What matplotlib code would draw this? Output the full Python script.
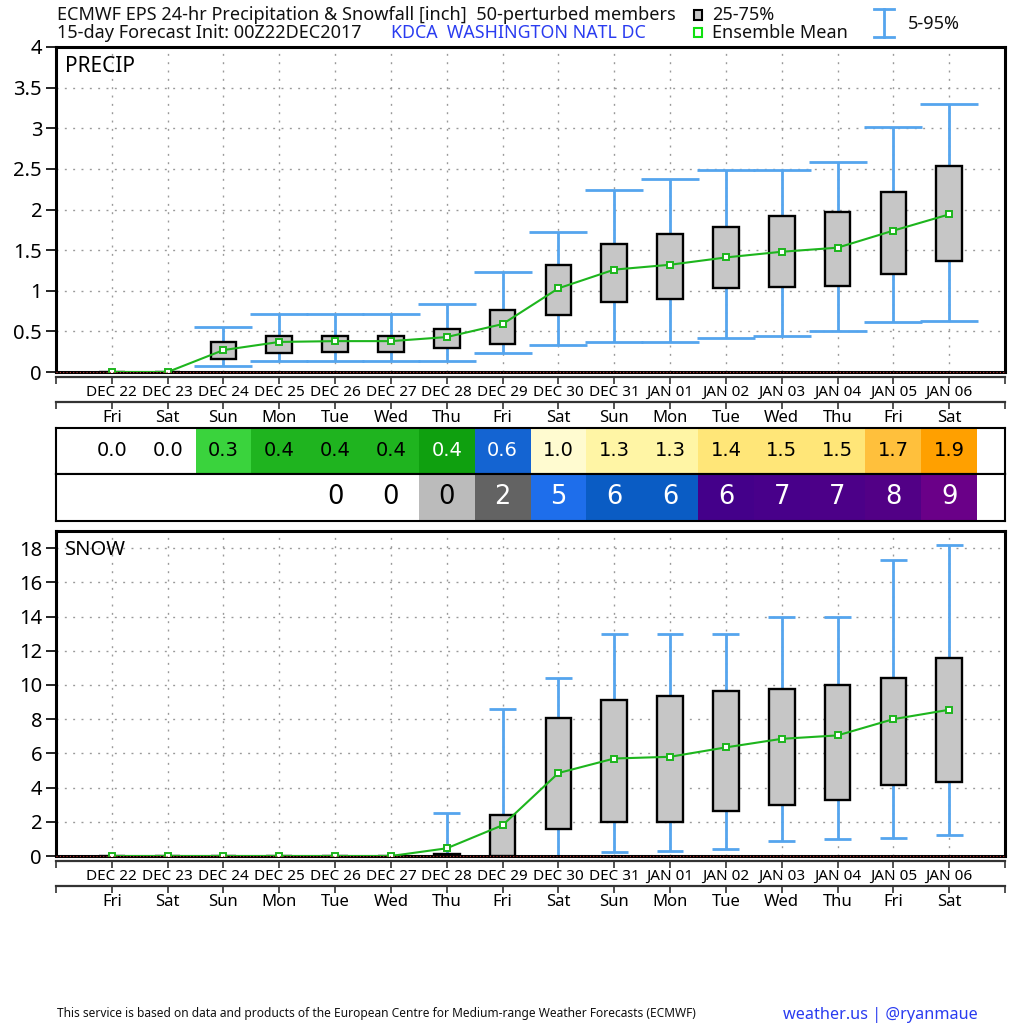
import numpy as np
import matplotlib
matplotlib.use("Agg")
import matplotlib.pyplot as plt
from matplotlib.lines import Line2D
from matplotlib.patches import Rectangle

plt.rcParams['font.family'] = ['Noto Sans', 'DejaVu Sans']

dates = ["DEC 22","DEC 23","DEC 24","DEC 25","DEC 26","DEC 27","DEC 28","DEC 29","DEC 30","DEC 31",
         "JAN 01","JAN 02","JAN 03","JAN 04","JAN 05","JAN 06"]
weekdays = ["Fri","Sat","Sun","Mon","Tue","Wed","Thu","Fri","Sat","Sun","Mon","Tue","Wed","Thu","Fri","Sat"]

p_p05 = [0,0,0.08,0.13,0.13,0.13,0.14,0.23,0.33,0.37,0.37,0.42,0.44,0.50,0.62,0.63]
p_p95 = [0,0,0.55,0.72,0.72,0.72,0.84,1.23,1.72,2.24,2.38,2.49,2.49,2.58,3.01,3.30]
p_q1 = [0,0,0.16,0.23,0.25,0.25,0.29,0.35,0.70,0.86,0.90,1.04,1.05,1.06,1.21,1.37]
p_q3 = [0,0,0.37,0.44,0.44,0.44,0.53,0.76,1.32,1.58,1.70,1.78,1.92,1.97,2.21,2.53]
p_mean = [0,0,0.27,0.37,0.38,0.38,0.43,0.59,1.03,1.26,1.32,1.41,1.48,1.53,1.74,1.94]

s_p05 = [0,0,0,0,0,0,0,0,0,0.25,0.30,0.40,0.85,1.00,1.05,1.25]
s_p95 = [0,0,0,0,0,0,2.5,8.6,10.4,13.0,13.0,13.0,14.0,14.0,17.3,18.2]
s_q1 = [0,0,0,0,0,0,0,0,1.55,2.0,2.0,2.65,3.0,3.25,4.15,4.3]
s_q3 = [0,0,0,0,0,0,0.1,2.4,8.05,9.1,9.35,9.65,9.75,10.0,10.4,11.6]
s_mean = [0,0,0,0,0,0,0.45,1.8,4.85,5.7,5.8,6.35,6.85,7.05,8.0,8.55]

p_labels = ["0.0","0.0","0.3","0.4","0.4","0.4","0.4","0.6","1.0","1.3","1.3","1.4","1.5","1.5","1.7","1.9"]
p_colors = ["#ffffff","#ffffff","#3ad33d","#1fb41f","#1fb41f","#1fb41f","#0fa00f","#1464d2","#fffbd0","#fff5a5",
            "#fff5a5","#ffe678","#ffe678","#ffe678","#ffc03c","#ffa000"]
p_text = ["black"]*6 + ["white","white"] + ["black"]*8
s_labels = ["","","","","0","0","0","2","5","6","6","6","7","7","8","9"]
s_colors = ["#ffffff"]*6 + ["#bbbbbb","#636363","#1e6eeb","#0a5cc4","#0a5cc4","#44008a","#48008a","#4c0088","#520086","#6a0088"]
s_text = ["black"]*7 + ["white"]*9

BLUE = "#55a5ee"
GREEN = "#1db51d"
W = H = 1024
fig = plt.figure(figsize=(10.24, 10.24), dpi=100, facecolor="white")

def axpx(l, t, r, b, **kw):
    return fig.add_axes([l/W, 1-b/H, (r-l)/W, (b-t)/H], **kw)

x = np.arange(len(dates))
xlim = (-1, 16)
ticks = np.arange(-1, 17)

def panel(top, bottom, ymax, yticks, yticklabels, p05, p95, q1, q3, mean, name, name_fs, cap):
    ax = axpx(56, top, 1005, bottom)
    ax.set_xlim(*xlim); ax.set_ylim(0, ymax)
    ax.set_yticks(yticks); ax.set_yticklabels(yticklabels, fontsize=14.5)
    ax.set_xticks(ticks); ax.set_xticklabels([])
    ax.tick_params(axis='x', length=0)
    ax.tick_params(axis='y', length=7, width=1.2, pad=3)
    ax.grid(True, color="#999999", lw=1, ls=(0, (1.4, 4.6)))
    ax.set_axisbelow(True)
    for s in ax.spines.values():
        s.set_linewidth(2.2)
    p05, p95, q1, q3 = map(np.array, (p05, p95, q1, q3))
    vis = p95 > 0
    ax.vlines(x[vis], p05[vis], p95[vis], color=BLUE, lw=2, zorder=2)
    ax.hlines(p95[vis], x[vis]-cap, x[vis]+cap, color=BLUE, lw=2, zorder=2)
    ax.hlines(p05[vis], x[vis]-cap, x[vis]+cap, color=BLUE, lw=2, zorder=2)
    ax.bar(x, q3-q1, bottom=q1, width=0.46, facecolor="#c6c6c6", edgecolor="black", lw=1.7, zorder=3)
    ax.plot(x, mean, color=GREEN, lw=1.5, marker='s', ms=5, mfc="white", mec=GREEN, mew=1.4, zorder=4)
    ax.axhline(0, color="#c03030", lw=0.8, ls=(0, (1, 2)), zorder=6, clip_on=False)
    ax.text(9/949, 1-(19/(bottom-top)), name, transform=ax.transAxes, fontsize=name_fs, va='center', ha='left')
    return ax

panel(47, 372, 4, np.arange(0, 4.5, 0.5), ["0","0.5","1","1.5","2","2.5","3","3.5","4"],
      p_p05, p_p95, p_q1, p_q3, p_mean, "PRECIP", 15, 0.52)
panel(531, 856, 19, np.arange(0, 20, 2), [str(v) for v in range(0, 20, 2)],
      s_p05, s_p95, s_q1, s_q3, s_mean, "SNOW", 14.5, 0.24)

def strip(y, labels, pad, fs):
    ax = axpx(56, y, 1005, y+0.5)
    ax.set_xlim(*xlim); ax.set_yticks([])
    for k, s in ax.spines.items():
        s.set_visible(k == 'top')
        s.set_linewidth(1.6); s.set_color("#333333")
    ax.set_xticks(ticks)
    ax.set_xticklabels([""] + labels + [""], fontsize=fs)
    ax.tick_params(axis='x', top=True, bottom=False, direction='in', length=5, width=1.2, color="#333333", pad=pad)
    ax.patch.set_alpha(0)

for y in (377, 861):
    strip(y, dates, 5.5, 11)
for y in (402, 886):
    strip(y, weekdays, 5.5, 12)

def row(top, bottom, labels, colors, tcolors, fs):
    ax = axpx(56, top, 1005, bottom)
    ax.set_xlim(*xlim); ax.set_ylim(0, 1)
    ax.set_xticks([]); ax.set_yticks([])
    ax.bar(x, 1, width=1, bottom=0, color=colors, lw=0)
    for xi, lab, c in zip(x, labels, tcolors):
        ax.text(xi, 0.5, lab, color=c, fontsize=fs, ha='center', va='center', family='DejaVu Sans')
    for s in ax.spines.values():
        s.set_linewidth(1.5)

row(428, 474, p_labels, p_colors, p_text, 14)
row(474, 521, s_labels, s_colors, s_text, 18.5)

ov = fig.add_axes([0, 0, 1, 1], facecolor="none")
ov.set_xlim(0, W); ov.set_ylim(H, 0); ov.axis('off')
ov.text(57, 15, "ECMWF EPS 24-hr Precipitation & Snowfall [inch]  50-perturbed members", fontsize=13, va='center', color="#111111")
ov.text(57, 33, "15-day Forecast Init: 00Z22DEC2017", fontsize=13, va='center', color="#111111")
ov.text(391, 33, "KDCA  WASHINGTON NATL DC", fontsize=12.8, va='center', color="#2a3cf0")
ov.text(712, 15, "25-75%", fontsize=13, va='center', color="#111111")
ov.text(712, 33, "Ensemble Mean", fontsize=13, va='center', color="#111111")
ov.text(908, 24, "5-95%", fontsize=13, va='center', color="#111111")
ov.add_patch(Rectangle((694, 10), 8, 10, fc="#c6c6c6", ec="black", lw=1.5))
ov.add_patch(Rectangle((694, 28), 8, 9, fc="white", ec="#10e010", lw=1.5))
ov.add_line(Line2D([884, 884], [9, 37], color=BLUE, lw=2))
ov.add_line(Line2D([874, 894], [9, 9], color=BLUE, lw=2))
ov.add_line(Line2D([874, 894], [37, 37], color=BLUE, lw=2))
ov.text(57, 1014, "This service is based on data and products of the European Centre for Medium-range Weather Forecasts (ECMWF)",
        fontsize=8.6, va='center', color="#111111")
ov.text(783, 1015, "weather.us | @ryanmaue", fontsize=11.7, va='center', color="#2a3cf0")

fig.savefig("out.png", dpi=100)
